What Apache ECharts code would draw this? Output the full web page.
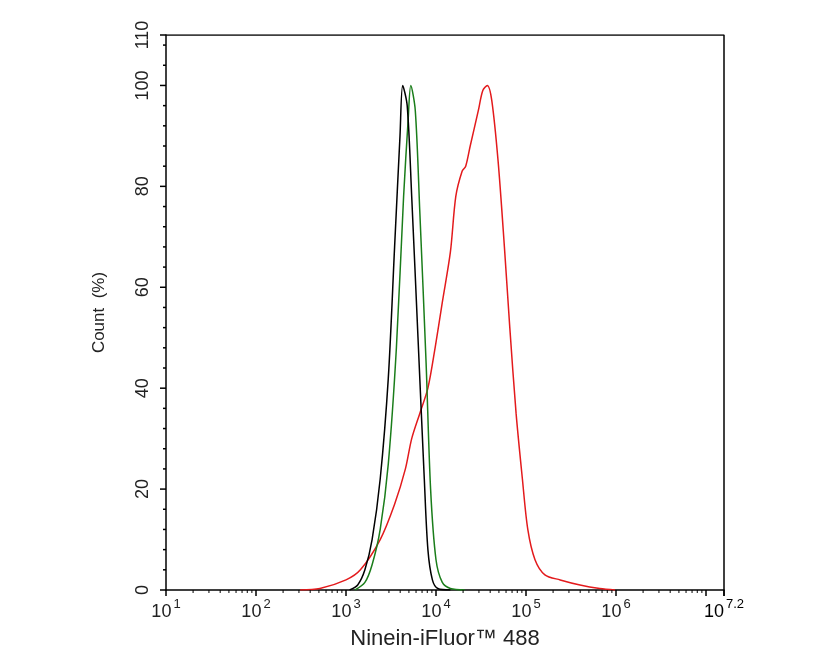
<!DOCTYPE html><html><head><meta charset="utf-8"><script src="https://cdn.jsdelivr.net/npm/echarts@6/dist/echarts.min.js"></script></head><body style="margin:0"><div id="c" style="width:835px;height:668px"></div><script>
const blackCurve=[[3.04,0],[3.13,1],[3.21,4],[3.29,10],[3.38,22],[3.47,42],[3.54,68],[3.6,90],[3.63,100],[3.68,96],[3.73,78],[3.8,50],[3.87,22],[3.91,8],[3.96,2],[4.02,0.3],[4.16,0]];
const greenCurve=[[3.1,0],[3.21,1.5],[3.29,5],[3.38,12],[3.47,25],[3.56,48],[3.64,78],[3.69,93],[3.72,100],[3.77,95],[3.82,75],[3.89,45],[3.94,20],[4.0,6],[4.07,1.5],[4.16,0.3],[4.32,0]];
const redCurve=[[2.49,0],[2.71,0.3],[3.0,2],[3.16,4],[3.38,10],[3.54,17],[3.66,24],[3.73,30],[3.82,35],[3.91,40],[3.99,48],[4.07,57],[4.16,67],[4.22,78],[4.29,83],[4.33,84],[4.38,88],[4.47,95],[4.52,99],[4.57,100],[4.62,97],[4.69,85],[4.76,68],[4.82,52],[4.89,35],[4.96,22],[5.02,12],[5.1,6],[5.21,3],[5.38,2],[5.6,1],[5.82,0.3],[5.99,0]];
const xTickExps=[1,2,3,4,5,6];
const xEndExp=7.2;
const yTicks=[0,20,40,60,80,100,110];
const minor=[];for(let d=1;d<7;d++)for(let k=2;k<=9;k++)minor.push(d+Math.log10(k));
const ch=echarts.init(document.getElementById('c'));
const rich={b:{fontSize:18,verticalAlign:'bottom',color:'#222'},s:{fontSize:13,verticalAlign:'top',padding:[0,0,10,2],color:'#222'}};
const line=(d,c)=>({type:'line',data:d,smooth:0.3,symbol:'none',lineStyle:{color:c,width:1.5},z:3});
ch.setOption({animation:false,grid:{left:166,right:111,top:35,bottom:78},
xAxis:{type:'value',min:1,max:7.2,interval:1,name:'Ninein-iFluor™ 488',nameLocation:'middle',nameGap:38,nameTextStyle:{fontSize:22,color:'#222',fontFamily:'Liberation Sans'},
axisLine:{lineStyle:{color:'#000',width:1.5}},axisTick:{length:6,lineStyle:{color:'#000',width:1.5}},splitLine:{show:false},
axisLabel:{fontFamily:'Liberation Sans',formatter:v=>{const e=Math.round(v*10)/10;return xTickExps.includes(e)?'{b|10}{s|'+e+'}':''},rich:rich}},
yAxis:{type:'value',min:0,max:110,interval:10,name:'Count  (%)',nameLocation:'middle',nameGap:58,nameTextStyle:{fontSize:17,color:'#222',fontFamily:'Liberation Sans'},
axisLine:{lineStyle:{color:'#000',width:1.5}},axisTick:{show:false},splitLine:{show:false},
axisLabel:{rotate:90,fontSize:18,color:'#222',margin:14,fontFamily:'Liberation Sans',formatter:v=>yTicks.includes(v)?String(v):''}},
series:[
{type:'custom',z:4,data:minor.map(v=>[v]),renderItem:(p,api)=>{const pt=api.coord([api.value(0),0]);return {type:'line',shape:{x1:pt[0],y1:pt[1],x2:pt[0],y2:pt[1]+3},style:{stroke:'#000',lineWidth:1}}},silent:true},
{type:'custom',z:4,data:[[xEndExp]],renderItem:(p,api)=>{const pt=api.coord([api.value(0),0]);return {type:'group',children:[{type:'line',shape:{x1:pt[0],y1:pt[1],x2:pt[0],y2:pt[1]+6},style:{stroke:'#000',lineWidth:1.5}},{type:'text',x:pt[0],y:pt[1]+8,style:{text:'{b|10}{s|'+xEndExp+'}',rich:rich,align:'center',verticalAlign:'top',fontFamily:'Liberation Sans'}}]}},silent:true},
{type:'custom',z:4,data:Array.from({length:28},(_,i)=>[i*4]).filter(d=>d[0]<=110).concat([[110]]),renderItem:(p,api)=>{const v=api.value(0);const pt=api.coord([1,v]);const L=(v%20===0||v===110)?6:3;return {type:'line',shape:{x1:pt[0]-L,y1:pt[1],x2:pt[0],y2:pt[1]},style:{stroke:'#000',lineWidth:1.5}}},silent:true},
{type:'line',data:[[1,110],[7.2,110],[7.2,0]],symbol:'none',lineStyle:{color:'#000',width:1.5},z:2},
line(redCurve,'#e31a1c'),line(greenCurve,'#1a7d1a'),line(blackCurve,'#000')]});
</script></body></html>
